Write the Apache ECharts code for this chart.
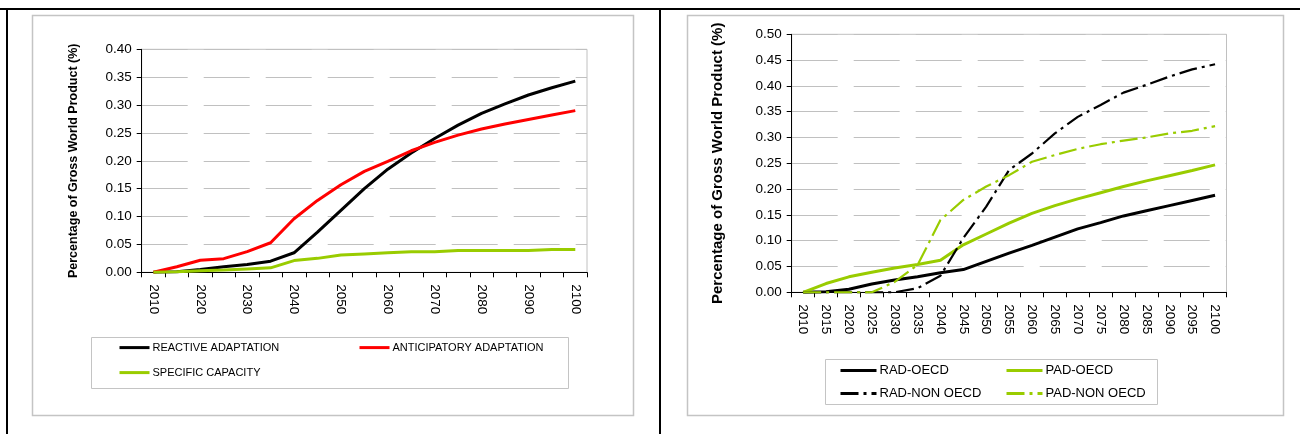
<!DOCTYPE html>
<html>
<head>
<meta charset="utf-8">
<script src="https://cdn.jsdelivr.net/npm/echarts@6/dist/echarts.min.js"></script>
<style>
html,body{margin:0;padding:0;background:#fff;}
#chart{width:1300px;height:434px;}
</style>
</head>
<body>
<div id="chart"></div>
<script>
// ---- data ----
const years = ['2010','2015','2020','2025','2030','2035','2040','2045','2050','2055','2060','2065','2070','2075','2080','2085','2090','2095','2100'];

const yTitle = 'Percentage of Gross World Product (%)';

// left chart
const leftNames = ['REACTIVE ADAPTATION', 'ANTICIPATORY ADAPTATION', 'SPECIFIC CAPACITY'];
const reactive =     [0, 0.001, 0.005, 0.010, 0.014, 0.020, 0.035, 0.072, 0.111, 0.150, 0.185, 0.214, 0.240, 0.264, 0.285, 0.302, 0.318, 0.331, 0.343];
const anticipatory = [0, 0.010, 0.0215, 0.0245, 0.037, 0.053, 0.096, 0.129, 0.157, 0.181, 0.199, 0.218, 0.233, 0.246, 0.257, 0.266, 0.274, 0.282, 0.290];
const specific =     [0, 0.001, 0.003, 0.004, 0.006, 0.008, 0.021, 0.025, 0.031, 0.033, 0.035, 0.037, 0.037, 0.039, 0.039, 0.039, 0.039, 0.041, 0.041];

// right chart
const rightNames = ['RAD-OECD', 'PAD-OECD', 'RAD-NON OECD', 'PAD-NON OECD'];
const radOecd = [0, 0.001, 0.006, 0.016, 0.024, 0.030, 0.038, 0.044, 0.060, 0.076, 0.091, 0.107, 0.123, 0.135, 0.148, 0.158, 0.168, 0.178, 0.188];
const padOecd = [0, 0.017, 0.030, 0.039, 0.047, 0.054, 0.062, 0.092, 0.113, 0.134, 0.153, 0.168, 0.181, 0.193, 0.205, 0.216, 0.226, 0.236, 0.247];
const radNon =  [0, 0, 0, 0, 0, 0.008, 0.032, 0.105, 0.166, 0.237, 0.269, 0.308, 0.340, 0.363, 0.387, 0.402, 0.418, 0.432, 0.442];
const padNon =  [0, 0, 0, 0, 0.020, 0.053, 0.140, 0.179, 0.205, 0.227, 0.253, 0.266, 0.278, 0.287, 0.294, 0.300, 0.308, 0.313, 0.322];

// ---- styling ----
const FONT = 'Liberation Sans, Arial, sans-serif';
const GREEN = '#99cc00';
const RED = '#ff0000';
const BLACK = '#000000';
const GRIDGRAY = '#c0c0c0';
const DASHDOT = [18, 5, 3, 5];

function xAxisFor(gridIndex, labelInterval, fontSize) {
  return {
    type: 'category', gridIndex: gridIndex, data: years, boundaryGap: true,
    axisLine: {show: true, lineStyle: {color: BLACK, width: 1}},
    axisTick: {show: true, interval: 0, length: 5, lineStyle: {color: BLACK}},
    axisLabel: {interval: labelInterval, rotate: -90, margin: 12, color: BLACK, fontFamily: FONT, fontSize: fontSize},
    splitLine: {show: false}
  };
}
function yAxisFor(gridIndex, max, fontSize, nameSize, nameGap) {
  return {
    type: 'value', gridIndex: gridIndex, min: 0, max: max, interval: 0.05,
    name: yTitle, nameLocation: 'middle', nameRotate: 90, nameGap: nameGap,
    nameTextStyle: {fontFamily: FONT, fontWeight: 'bold', fontSize: nameSize, color: BLACK},
    axisLine: {show: true, lineStyle: {color: BLACK, width: 1}},
    axisTick: {show: true, length: 5, lineStyle: {color: BLACK}},
    axisLabel: {margin: 10, color: BLACK, fontFamily: FONT, fontSize: fontSize, formatter: v => v.toFixed(2)},
    splitLine: {show: true, lineStyle: {color: GRIDGRAY, width: 1, type: [46, 16]}}
  };
}
function lineSeries(name, data, color, width, type, idx) {
  return {
    name: name, type: 'line', xAxisIndex: idx, yAxisIndex: idx, data: data,
    symbol: 'none', smooth: false, animation: false,
    lineStyle: {color: color, width: width, type: type || 'solid'},
    itemStyle: {color: color}
  };
}
function legendItem(name, left, top, itemWidth, fontSize, lw) {
  return {
    data: [name], left: left, top: top, orient: 'horizontal',
    itemWidth: itemWidth, itemHeight: 14, itemGap: 0, padding: 0,
    selectedMode: false,
    itemStyle: {opacity: 0},
    lineStyle: {width: lw},
    textStyle: {fontFamily: FONT, fontSize: fontSize, color: BLACK, padding: [0,0,0,-2]}
  };
}

const chart = echarts.init(document.getElementById('chart'), null, {renderer: 'canvas'});

const option = {
  backgroundColor: '#ffffff',
  animation: false,
  grid: [
    {left: 141.7, top: 49.3, width: 445.3, height: 223, show: true, borderColor: GRIDGRAY, borderWidth: 1, backgroundColor: 'transparent'},
    {left: 791.7, top: 34.3, width: 434.8, height: 258, show: true, borderColor: GRIDGRAY, borderWidth: 1, backgroundColor: 'transparent'}
  ],
  xAxis: [xAxisFor(0, 1, 13.5), xAxisFor(1, 0, 13.5)],
  yAxis: [yAxisFor(0, 0.4, 13.5, 12.5, 62), yAxisFor(1, 0.5, 13.5, 15, 66)],
  series: [
    lineSeries(leftNames[0], reactive, BLACK, 3, 'solid', 0),
    lineSeries(leftNames[1], anticipatory, RED, 3, 'solid', 0),
    lineSeries(leftNames[2], specific, GREEN, 3, 'solid', 0),
    lineSeries(rightNames[0], radOecd, BLACK, 3, 'solid', 1),
    lineSeries(rightNames[1], padOecd, GREEN, 3, 'solid', 1),
    lineSeries(rightNames[2], radNon, BLACK, 2.2, DASHDOT, 1),
    lineSeries(rightNames[3], padNon, GREEN, 2.2, DASHDOT, 1)
  ],
  legend: [
    legendItem(leftNames[0], 118, 342, 30, 11, 3),
    legendItem(leftNames[1], 358, 342, 30, 11, 3),
    legendItem(leftNames[2], 118, 367, 30, 11, 3),
    legendItem(rightNames[0], 839, 364, 36, 13, 3),
    legendItem(rightNames[1], 1005, 364, 36, 13, 3),
    legendItem(rightNames[2], 839, 387, 36, 13, 3),
    legendItem(rightNames[3], 1005, 387, 36, 13, 3)
  ],
  graphic: [
    // outer frame lines
    {type: 'line', silent: true, shape: {x1: 0, y1: 9, x2: 1300, y2: 9}, style: {stroke: BLACK, lineWidth: 2}},
    {type: 'line', silent: true, shape: {x1: 7, y1: 9, x2: 7, y2: 434}, style: {stroke: BLACK, lineWidth: 2}},
    {type: 'line', silent: true, shape: {x1: 660, y1: 9, x2: 660, y2: 434}, style: {stroke: BLACK, lineWidth: 2}},
    // chart area boxes
    {type: 'rect', silent: true, z: -10, shape: {x: 32.5, y: 15.5, width: 601, height: 400}, style: {fill: 'transparent', stroke: '#c4c4c4', lineWidth: 1.5}},
    {type: 'rect', silent: true, z: -10, shape: {x: 687.5, y: 15.5, width: 596, height: 400}, style: {fill: 'transparent', stroke: '#c4c4c4', lineWidth: 1.5}},
    // legend boxes
    {type: 'rect', silent: true, z: -10, shape: {x: 91.5, y: 337.5, width: 477, height: 51}, style: {fill: 'transparent', stroke: '#c4c4c4', lineWidth: 1}},
    {type: 'rect', silent: true, z: -10, shape: {x: 825.5, y: 359.5, width: 332, height: 45}, style: {fill: 'transparent', stroke: '#c4c4c4', lineWidth: 1}}
  ]
};
chart.setOption(option);
</script>
</body>
</html>
